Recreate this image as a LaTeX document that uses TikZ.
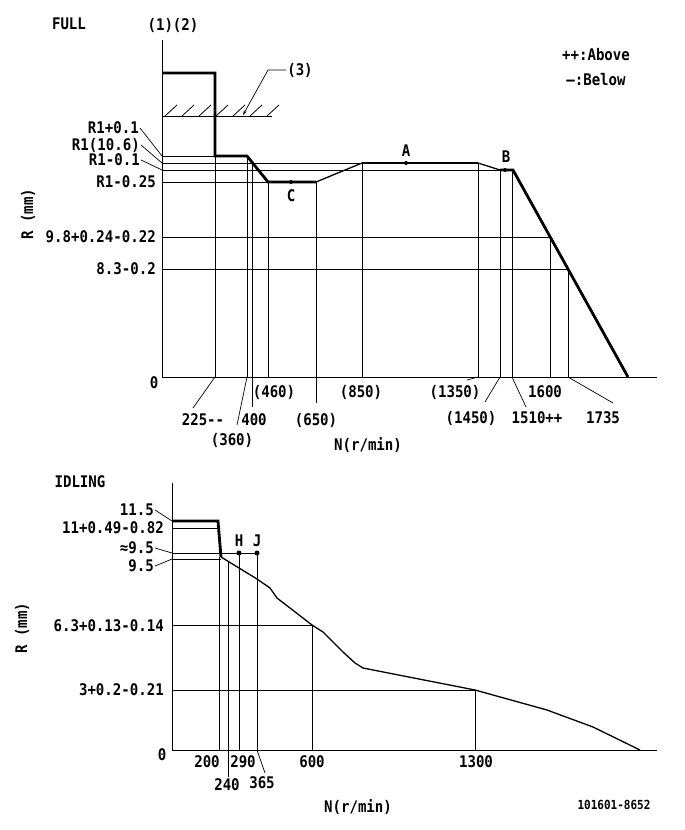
\documentclass[tikz,border=0pt]{standalone}
\usepackage{fontspec}
\setmonofont[FakeStretch=0.88]{DejaVu Sans Mono}
\usetikzlibrary{arrows.meta,positioning}
\tikzset{
  lbl/.style={font=\ttfamily\bfseries\fontsize{16}{18}\selectfont,inner sep=1pt},
  small/.style={font=\ttfamily\bfseries\fontsize{12.5}{14}\selectfont,inner sep=1pt},
  gridln/.style={line width=0.8pt},
  curve/.style={line width=2.8pt},
  slope/.style={line width=1.3pt},
  leader/.style={line width=0.7pt},
  mark dot/.style={circle,fill,inner sep=0pt,minimum size=4pt},
}

\begin{document}
\begin{tikzpicture}[x=1pt,y=-1pt]
  \useasboundingbox (0,0) rectangle (685,830);

  % ---------------- FULL ----------------
  \node[lbl] (full) at (69,24) {FULL};
  \node[lbl] (pos12) at (173,25) {(1)(2)};
  \node[lbl] (abv) at (596,55) {++:Above};
  \node[lbl] (blw) at (596,80) {—:Below};

  \draw[gridln] (162,40) -- (162,377) -- (657,377);
  \draw[gridln] (162,116) -- (272,116);
  \foreach \i in {0,...,6}
    \draw[gridln] (165+\i*17,116) -- ++(12,-11);
  \node[lbl] (stop) at (300,70) {(3)};
  \draw[leader,-{Stealth[length=5pt,width=3pt]}] (stop.west) -- (268,70) -- (243,115);

  % limit lines
  \draw[gridln] (162,156) -- (247,156);
  \draw[gridln] (162,163) -- (362,163);
  \draw[gridln] (162,170) -- (512,170);
  \draw[gridln] (162,182) -- (268,182);
  \draw[gridln] (162,237) -- (550,237);
  \draw[gridln] (162,269) -- (568,269);
  \foreach \x/\y in {215/156,247/156,268/182,362/163,478/163,500/170,512/170,550/237,568/269}
    \draw[gridln] (\x,\y) -- (\x,377);
  \draw[gridln] (252,162) -- (252,407);
  \draw[gridln] (316,182) -- (316,403);

  % rack curve
  \draw[curve] (162,73) -- (215,73) -- (215,156) -- (247,156) -- (268,182) -- (316,182);
  \draw[slope] (316,182) -- (362,163);
  \draw[curve] (362,163) -- (478,163);
  \draw[slope] (478,163) -- (500,170);
  \draw[curve] (500,170) -- (513,170) -- (628,377);

  \node[mark dot] (ptA) at (406,163) {};
  \node[mark dot] (ptB) at (505,170) {};
  \node[mark dot] (ptC) at (291,182) {};
  \node[lbl] at (406,151) {A};
  \node[lbl] at (506,157) {B};
  \node[lbl] at (291,196) {C};

  % R labels
  \node[lbl,anchor=east] (r1p) at (140,128) {R1+0.1};
  \node[lbl,anchor=east] (r1) at (141,145) {R1(10.6)};
  \node[lbl,anchor=east] (r1m) at (141,160) {R1-0.1};
  \node[lbl,anchor=east] (r1mm) at (157,182) {R1-0.25};
  \node[lbl,anchor=east] (r98) at (157,237) {9.8+0.24-0.22};
  \node[lbl,anchor=east] (r83) at (157,269) {8.3-0.2};
  \draw[leader] (r1p.east) -- (162,156);
  \draw[leader] (r1.east) -- (162,163);
  \draw[leader] (r1m.east) -- (162,170);
  \node[lbl,rotate=90] (raxis) at (28,214) {R (mm)};

  % N labels
  \node[lbl] (z0) at (154,383) {0};
  \node[lbl] (n225) at (203,420) {225--};
  \node[lbl] (n360) at (232,440) {(360)};
  \node[lbl] (n400) at (254,420) {400};
  \node[lbl] (n460) at (274,392) {(460)};
  \node[lbl] (n650) at (316,420) {(650)};
  \node[lbl] (n850) at (361,392) {(850)};
  \node[lbl] (n1350) at (455,392) {(1350)};
  \node[lbl] (n1450) at (471,418) {(1450)};
  \node[lbl] (n1510) at (537,418) {1510++};
  \node[lbl] (n1600) at (545,392) {1600};
  \node[lbl] (n1735) at (603,418) {1735};
  \node[lbl] (naxis) at (368,445) {N(r/min)};
  \draw[leader] (215,377) -- (193,408);
  \draw[leader] (247,377) -- (237,425);
  \draw[leader] (478,377) -- (467,380);
  \draw[leader] (500,377) -- (485,402);
  \draw[leader] (512,377) -- (526,407);
  \draw[leader] (568,377) -- (613,403);

  % ---------------- IDLING ----------------
  \node[lbl] (idl) at (80,482) {IDLING};
  \draw[gridln] (172,483) -- (172,750) -- (657,750);
  \draw[gridln] (172,528) -- (218,528);
  \draw[gridln] (172,553) -- (257,553);
  \draw[gridln] (172,559) -- (221,559);
  \draw[gridln] (172,625) -- (312,625);
  \draw[gridln] (172,690) -- (475,690);
  \foreach \x/\y in {219/557,239/553,257/553,312/625,475/690}
    \draw[gridln] (\x,\y) -- (\x,750);
  \draw[gridln] (228,561) -- (228,777);

  \draw[curve] (172,521) -- (218,521) -- (221,557);
  \draw[slope] (221,557) -- (257,579) -- (270,588) -- (277,598) -- (312,625)
    -- (323,632) -- (343,652) -- (355,663) -- (363,668) -- (475,690)
    -- (547,710) -- (593,727) -- (640,750);

  \node[mark dot,minimum size=5pt] (ptH) at (239,553) {};
  \node[mark dot,minimum size=5pt] (ptJ) at (257,553) {};
  \node[lbl] at (239,541) {H};
  \node[lbl] at (257,541) {J};

  \node[lbl,anchor=east] (i115) at (155,510) {11.5};
  \node[lbl,anchor=east] (i11) at (165,528) {11+0.49-0.82};
  \node[lbl,anchor=east] (i95a) at (155,548) {≈9.5};
  \node[lbl,anchor=east] (i95) at (155,566) {9.5};
  \node[lbl,anchor=east] (i63) at (165,626) {6.3+0.13-0.14};
  \node[lbl,anchor=east] (i3) at (165,690) {3+0.2-0.21};
  \draw[leader] (i115.east) -- (172,521);
  \draw[leader] (i95a.east) -- (172,553);
  \draw[leader] (i95.east) -- (172,559);
  \node[lbl,rotate=90] (iraxis) at (22,628) {R (mm)};

  \node[lbl] (m0) at (162,755) {0};
  \node[lbl] (m200) at (207,762) {200};
  \node[lbl] (m290) at (243,762) {290};
  \node[lbl] (m600) at (312,762) {600};
  \node[lbl] (m1300) at (476,762) {1300};
  \node[lbl] (m240) at (227,785) {240};
  \node[lbl] (m365) at (262,783) {365};
  \node[lbl] (maxis) at (358,807) {N(r/min)};
  \draw[leader] (257,750) -- (265,773);

  \node[small] (code) at (614,805) {101601-8652};
\end{tikzpicture}
\end{document}
